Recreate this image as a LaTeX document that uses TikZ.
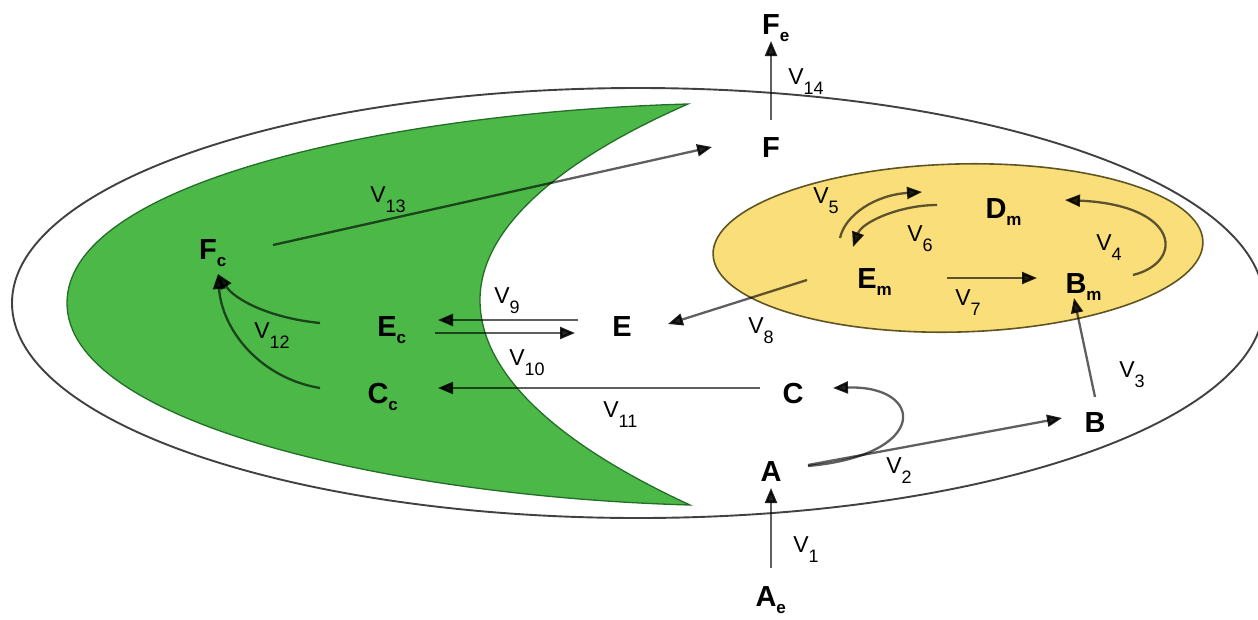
\documentclass[tikz,border=0pt]{standalone}
\usepackage{fontspec}
\setmainfont{Liberation Sans}
\usetikzlibrary{arrows.meta,calc}
\definecolor{lc}{RGB}{95,95,95}
\definecolor{tipc}{RGB}{35,35,35}
\definecolor{cgreen}{RGB}{76,184,72}
\definecolor{cgreenb}{RGB}{35,110,40}
\definecolor{cyellow}{RGB}{250,222,122}
\definecolor{cyellowb}{RGB}{95,85,35}
\definecolor{outerc}{RGB}{65,65,65}
\newcommand\nsub[1]{\rlap{\smash{\raisebox{-7pt}{\fontsize{17}{17}\selectfont #1}}}}
\newcommand\lsub[1]{\rlap{\smash{\raisebox{-10pt}{\fontsize{18}{18}\selectfont #1}}}}
\begin{document}
\begin{tikzpicture}[x=1pt,y=-1pt,
  nd/.style={inner sep=0pt, font=\fontsize{29}{29}\selectfont\bfseries},
  lab/.style={inner sep=0pt, font=\fontsize{23}{23}\selectfont},
  conn/.style={draw=lc, line width=2.3pt},
  arr/.style={conn, -{Triangle[length=15pt,width=12pt,color=tipc]}},
  outerline/.style={draw=outerc, line width=1.9pt},
  crescent/.style={fill=cgreen, draw=cgreenb, line width=1.3pt},
  mito/.style={fill=cyellow, draw=cyellowb, line width=1.6pt},
]
\useasboundingbox (0,0) rectangle (1258,619);

% cell
\draw[outerline] (638,303) ellipse [x radius=626pt, y radius=215pt];
% chloroplast crescent
\path[crescent] (688,104) .. controls (400,112) and (67,180) .. (67,303)
   .. controls (67,425) and (400,497) .. (690,505)
   .. controls (560,445) and (480,375) .. (480,300)
   .. controls (480,228) and (560,160) .. cycle;
% mitochondrion
\path[mito, rotate around={1.5:(958,248)}] (958,248) ellipse [x radius=245pt, y radius=84pt];

% nodes
\node[nd] (Fe) at (771,25) {F\nsub{e}};
\node[nd] (F)  at (771,148) {F};
\node[nd] (Dm) at (996,209) {D\nsub{m}};
\node[nd] (Em) at (867,279) {E\nsub{m}};
\node[nd] (Bm) at (1076,284) {B\nsub{m}};
\node[nd] (E)  at (622,327) {E};
\node[nd] (Ec) at (387,327) {E\nsub{c}};
\node[nd] (Fc) at (208,250) {F\nsub{c}};
\node[nd] (Cc) at (378,394) {C\nsub{c}};
\node[nd] (C)  at (793,394) {C};
\node[nd] (B)  at (1095,423) {B};
\node[nd] (A)  at (771,472) {A};
\node[nd] (Ae) at (766,597) {A\nsub{e}};

% connectors
\begin{scope}[blend mode=multiply]
\draw[arr] ($(F)+(0,-28)$) -- ($(Fe)+(0,16)$);
\draw[arr] ($(Ae)+(5,-29)$) -- ($(A)+(0,16)$);
\draw[arr] ($(A)+(37,-7)$) -- ($(B)+(-33,-5)$);
\draw[arr] ($(A)+(37,-6)$) .. controls +(122,-11) and +(92,-3) .. ($(C)+(40,-6)$);
\draw[arr] ($(B)+(0,-26)$) -- ($(Bm)+(-2,14)$);
\draw[arr] ($(Bm)+(57,-9)$) .. controls +(52,-13) and +(115,5) .. ($(Dm)+(69,-9)$);
\draw[arr] ($(Em)+(80,-1)$) -- ($(Bm)+(-39,-6)$);
\draw[arr] ($(Em)+(-27,-41)$) .. controls +(5,-23) and +(-47,3) .. ($(Dm)+(-74,-17)$);
\draw[arr] ($(Dm)+(-59,-4)$) .. controls +(-37,0) and +(9,-25) .. ($(Em)+(-14,-32)$);
\draw[arr] ($(Em)+(-60,1)$) -- ($(E)+(46,-3)$);
\draw[arr] ($(E)+(-44,-7)$) -- ($(Ec)+(51,-7)$);
\draw[arr] ($(Ec)+(48,6)$) -- ($(E)+(-47,6)$);
\draw[arr] ($(C)+(-33,-6)$) -- ($(Cc)+(60,-6)$);
\draw[arr] ($(Ec)+(-67,-4)$) .. controls +(-50,-5) and +(17,26) .. ($(Fc)+(10,24)$);
\draw[arr] ($(Cc)+(-58,-6)$) .. controls +(-60,-10) and +(4,56) .. ($(Fc)+(10,24)$);
\draw[arr] ($(Fc)+(65,-5)$) -- ($(F)+(-59,-1)$);
\end{scope}

% rate labels
\node[lab] (l1)  at (801,545) {V\lsub{1}};
\node[lab] (l2)  at (894,466) {V\lsub{2}};
\node[lab] (l3)  at (1127,370) {V\lsub{3}};
\node[lab] (l4)  at (1104,243) {V\lsub{4}};
\node[lab] (l5)  at (821,196) {V\lsub{5}};
\node[lab] (l6)  at (915,234) {V\lsub{6}};
\node[lab] (l7)  at (963,298) {V\lsub{7}};
\node[lab] (l8)  at (756,326) {V\lsub{8}};
\node[lab] (l9)  at (502,296) {V\lsub{9}};
\node[lab] (l10) at (517,358) {V\lsub{10}};
\node[lab] (l11) at (611,410) {V\lsub{11}};
\node[lab] (l12) at (262,331) {V\lsub{12}};
\node[lab] (l13) at (378,195) {V\lsub{13}};
\node[lab] (l14) at (796,77) {V\lsub{14}};
\end{tikzpicture}
\end{document}
